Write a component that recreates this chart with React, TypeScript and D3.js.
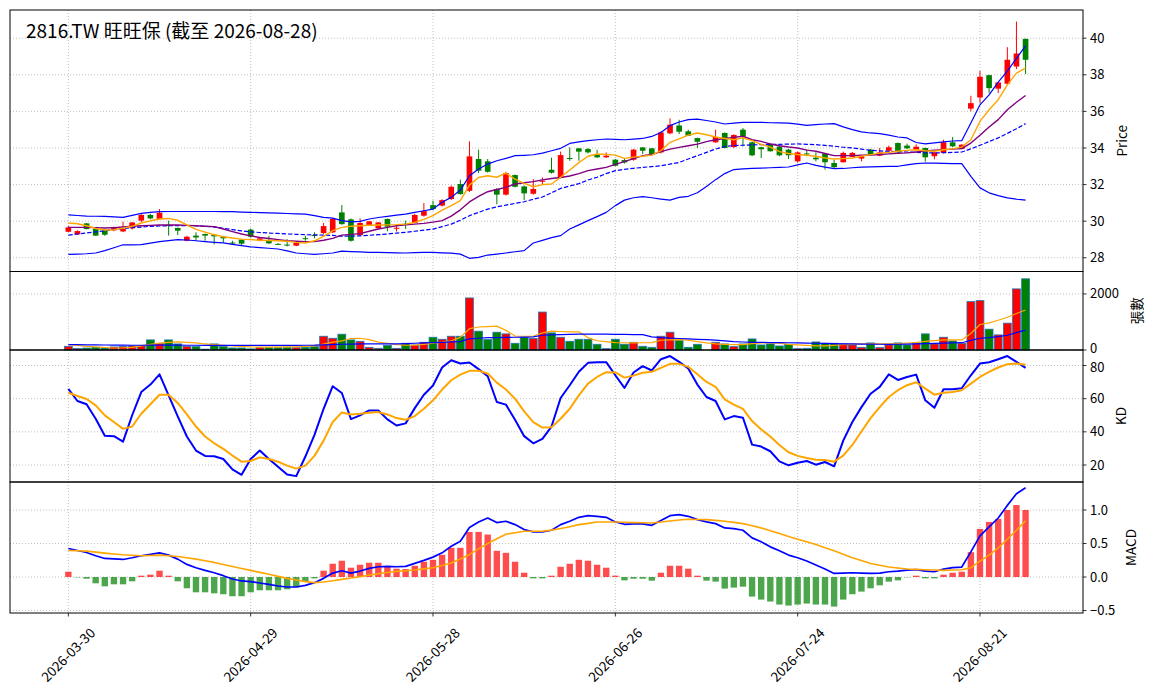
import * as d3 from 'd3';
import React, { useEffect, useRef } from 'react';

// trading days shown on the chart
const dates = [
    '2026-03-30', '2026-03-31', '2026-04-01', '2026-04-02', '2026-04-07', '2026-04-08', '2026-04-09', '2026-04-10',
    '2026-04-13', '2026-04-14', '2026-04-15', '2026-04-16', '2026-04-17', '2026-04-20', '2026-04-21', '2026-04-22',
    '2026-04-23', '2026-04-24', '2026-04-27', '2026-04-28', '2026-04-29', '2026-04-30', '2026-05-04', '2026-05-05',
    '2026-05-06', '2026-05-07', '2026-05-08', '2026-05-11', '2026-05-12', '2026-05-13', '2026-05-14', '2026-05-15',
    '2026-05-18', '2026-05-19', '2026-05-20', '2026-05-21', '2026-05-22', '2026-05-25', '2026-05-26', '2026-05-27',
    '2026-05-28', '2026-05-29', '2026-06-01', '2026-06-02', '2026-06-03', '2026-06-04', '2026-06-05', '2026-06-08',
    '2026-06-09', '2026-06-10', '2026-06-11', '2026-06-12', '2026-06-15', '2026-06-16', '2026-06-17', '2026-06-18',
    '2026-06-22', '2026-06-23', '2026-06-24', '2026-06-25', '2026-06-26', '2026-06-29', '2026-06-30', '2026-07-01',
    '2026-07-02', '2026-07-03', '2026-07-06', '2026-07-07', '2026-07-08', '2026-07-09', '2026-07-10', '2026-07-13',
    '2026-07-14', '2026-07-15', '2026-07-16', '2026-07-17', '2026-07-20', '2026-07-21', '2026-07-22', '2026-07-23',
    '2026-07-24', '2026-07-27', '2026-07-28', '2026-07-29', '2026-07-30', '2026-07-31', '2026-08-03', '2026-08-04',
    '2026-08-05', '2026-08-06', '2026-08-07', '2026-08-10', '2026-08-11', '2026-08-12', '2026-08-13', '2026-08-14',
    '2026-08-17', '2026-08-18', '2026-08-19', '2026-08-20', '2026-08-21', '2026-08-24', '2026-08-25', '2026-08-26',
    '2026-08-27', '2026-08-28',
];

// null = no trade that day
const openPx = [
    29.42, 29.28, 29.88, 29.57, 29.52, 29.5, 29.44, 29.61, 30.03, 30.34, 30.12, 29.8, 29.63, 28.93, 29.21, 29.3,
    29.26, 29.15, 28.83, 28.99, 29.54, 28.95, 28.93, 28.76, 28.72, 28.66, 29.07, 29.25, 29.35, 29.39, 30.48, 30.1,
    29.24, 29.79, 29.61, 30.12, 29.6, 29.86, 29.9, 30.3, 30.88, 30.85, 31.21, 32.03, 31.66, 33.4, 33.27, 31.76,
    31.45, 32.52, 31.9, 31.5, 32.19, 32.81, 32.39, 33.45, 33.98, 33.94, 33.67, 33.49, 33.36, 33.34, 33.36, 34.03,
    33.98, 33.76, 34.8, 35.23, 34.91, 34.54, null, 34.31, 34.82, 34.05, 35.0, 34.31, 34.04, 34.22, 34.07, 33.91,
    33.27, 33.7, 33.47, 33.69, 33.18, 33.22, 33.51, 33.42, 33.91, 33.58, 33.85, 34.27, 34.13, 33.91, 34.0, 33.55,
    33.73, 34.31, 33.95, 36.15, 36.76, 37.98, 37.24, 37.51, 38.45, 39.96,
];
const highPx = [
    29.75, 29.5, 29.9, 29.6, 29.55, 29.7, 29.97, 29.95, 30.4, 30.4, 30.66, 30.03, 29.65, 29.2, 29.39, 29.32,
    29.3, 29.2, 28.93, 29.0, 29.6, 29.1, 29.2, 28.8, 29.02, 28.85, 29.2, 29.39, 29.9, 30.15, 30.88, 30.15,
    30.15, 30.02, 29.95, 30.15, 29.79, 30.03, 30.4, 30.99, 31.12, 31.2, 31.95, 32.27, 34.36, 33.9, 33.4, 31.8,
    32.7, 32.55, 31.95, 32.3, 32.39, 33.47, 33.8, 34.03, 34.0, 34.0, 33.9, 33.76, 33.4, 33.4, 33.95, 34.05,
    34.0, 34.9, 35.62, 35.54, 35.0, 34.56, null, 35.0, 34.85, 34.75, 35.09, 34.35, 34.07, 34.25, 34.1, 33.95,
    33.8, 33.91, 33.76, 33.72, 33.36, 33.8, 33.78, 33.6, 33.95, 34.0, 34.13, 34.3, 34.24, 34.2, 34.02, 33.8,
    34.45, 34.6, 34.2, 36.85, 38.22, 38.0, 37.6, 39.51, 40.91, 39.98,
];
const lowPx = [
    29.4, 29.25, 29.55, 29.2, 29.2, 29.45, 29.4, 29.55, 29.95, 30.1, 30.1, 29.21, 29.24, 28.9, 28.93, 28.93,
    28.73, 28.84, 28.7, 28.7, 29.1, 28.9, 28.75, 28.7, 28.62, 28.63, 28.93, 29.06, 29.3, 29.35, 29.8, 28.88,
    29.2, 29.75, 29.6, 29.45, 29.44, 29.57, 29.88, 30.25, 30.6, 30.8, 31.15, 31.45, 31.6, 32.63, 32.65, 30.92,
    31.4, 31.85, 31.15, 31.45, 32.03, 32.6, 32.35, 33.3, 33.3, 33.7, 33.45, 33.45, 33.0, 33.15, 33.3, 33.67,
    33.65, 33.7, 34.75, 34.76, 34.65, 34.0, null, 34.28, 33.98, 34.0, 34.09, 33.55, 33.45, 33.8, 33.55, 33.4,
    33.2, 33.55, 33.27, 32.82, 32.9, 33.2, 33.5, 33.27, 33.6, 33.55, 33.8, 33.72, 33.95, 33.88, 33.25, 33.38,
    33.7, 34.05, 33.93, 36.0, 36.45, 37.0, 37.0, 37.45, 38.31, 38.04,
];
const closePx = [
    29.66, 29.46, 29.57, 29.21, 29.26, 29.65, 29.57, 29.93, 30.34, 30.15, 30.46, 29.78, 29.48, 29.15, 29.11, 29.21,
    29.17, 29.06, 28.8, 28.77, 29.15, 29.06, 28.79, 28.74, 28.7, 28.81, 29.05, 29.23, 29.73, 30.12, 29.84, 28.93,
    29.9, 29.99, 29.93, 29.7, 29.64, 29.84, 30.34, 30.55, 30.66, 31.15, 31.88, 31.48, 33.54, 32.76, 32.7, 31.45,
    32.63, 31.88, 31.52, 31.76, 32.21, 32.65, 33.61, 33.43, 33.8, 33.76, 33.49, 33.58, 33.03, 33.21, 33.91, 33.85,
    33.67, 34.85, 35.27, 34.89, 34.67, 34.34, null, 34.6, 34.0, 34.71, 34.64, 33.6, 33.93, 33.82, 33.6, 33.6,
    33.76, 33.67, 33.38, 33.22, 32.95, 33.73, 33.73, 33.55, 33.64, 33.76, 34.04, 33.76, 33.98, 34.07, 33.49, 33.76,
    34.31, 34.09, 34.18, 36.45, 37.89, 37.27, 37.58, 38.82, 39.16, 38.82,
];

// price overlays
const ma5 = [
    29.9, 29.86, 29.75, 29.6, 29.52, 29.53, 29.62, 29.72, 29.9, 30.02, 30.12, 30.15, 30.05, 29.8, 29.55, 29.4,
    29.26, 29.15, 29.08, 29.02, 28.99, 28.96, 28.94, 28.93, 28.9, 28.84, 28.81, 28.93, 29.17, 29.48, 29.66, 29.72,
    29.75, 29.78, 29.79, 29.8, 29.81, 29.84, 29.93, 30.1, 30.3, 30.6, 30.85, 31.12, 31.97, 32.39, 32.48, 32.4,
    32.62, 32.3, 32.07, 31.88, 32.0, 32.03, 32.4, 32.8, 33.2, 33.55, 33.67, 33.65, 33.61, 33.43, 33.5, 33.55,
    33.61, 33.85, 34.31, 34.5, 34.7, 34.82, 34.72, 34.6, 34.52, 34.45, 34.55, 34.4, 34.2, 34.05, 33.8, 33.7,
    33.64, 33.6, 33.55, 33.45, 33.4, 33.42, 33.45, 33.55, 33.64, 33.72, 33.76, 33.82, 33.87, 33.9, 33.85, 33.82,
    33.9, 33.95, 34.05, 34.45, 35.45, 36.09, 36.64, 37.45, 38.09, 38.36,
];
const ma10 = [
    29.66, 29.66, 29.66, 29.65, 29.63, 29.65, 29.68, 29.72, 29.75, 29.77, 29.79, 29.79, 29.79, 29.77, 29.75, 29.72,
    29.7, 29.57, 29.43, 29.3, 29.2, 29.11, 29.05, 28.99, 28.93, 28.9, 28.88, 28.88, 28.96, 29.06, 29.24, 29.28,
    29.32, 29.45, 29.57, 29.66, 29.75, 29.8, 29.84, 29.88, 29.95, 30.03, 30.28, 30.62, 31.05, 31.35, 31.61, 31.73,
    31.85, 32.03, 32.1, 32.16, 32.26, 32.33, 32.39, 32.47, 32.6, 32.76, 32.85, 32.94, 33.1, 33.25, 33.42, 33.58,
    33.64, 33.8, 33.94, 34.03, 34.12, 34.21, 34.35, 34.45, 34.52, 34.58, 34.64, 34.45, 34.36, 34.22, 34.12, 34.05,
    34.0, 33.88, 33.82, 33.7, 33.58, 33.58, 33.58, 33.6, 33.62, 33.64, 33.68, 33.71, 33.73, 33.78, 33.84, 33.88,
    33.91, 33.94, 33.97, 34.27, 34.7, 35.15, 35.55, 36.09, 36.5, 36.87,
];
const ma20 = [
    29.24, 29.3, 29.36, 29.41, 29.48, 29.55, 29.6, 29.64, 29.68, 29.72, 29.74, 29.75, 29.76, 29.76, 29.75, 29.72,
    29.68, 29.61, 29.54, 29.47, 29.42, 29.38, 29.35, 29.33, 29.3, 29.28, 29.26, 29.25, 29.24, 29.22, 29.18, 29.18,
    29.2, 29.23, 29.26, 29.3, 29.35, 29.39, 29.45, 29.51, 29.57, 29.7, 29.84, 30.05, 30.3, 30.48, 30.66, 30.78,
    30.88, 30.97, 31.06, 31.2, 31.32, 31.55, 31.79, 31.92, 32.05, 32.25, 32.4, 32.6, 32.76, 32.83, 32.89, 32.94,
    32.98, 33.03, 33.12, 33.21, 33.4, 33.58, 33.76, 33.94, 34.08, 34.13, 34.15, 34.17, 34.18, 34.19, 34.2, 34.21,
    34.22, 34.2, 34.18, 34.14, 34.1, 34.04, 34.0, 33.94, 33.87, 33.84, 33.82, 33.8, 33.78, 33.76, 33.73, 33.73,
    33.74, 33.76, 33.78, 33.95, 34.15, 34.35, 34.55, 34.8, 35.05, 35.33,
];
const bbUpper = [
    30.34, 30.31, 30.28, 30.27, 30.26, 30.23, 30.21, 30.32, 30.43, 30.48, 30.52, 30.53, 30.53, 30.53, 30.53, 30.53,
    30.53, 30.52, 30.52, 30.5, 30.48, 30.47, 30.45, 30.44, 30.42, 30.4, 30.39, 30.3, 30.21, 30.17, 30.03, 29.96,
    29.99, 30.12, 30.2, 30.26, 30.33, 30.39, 30.48, 30.57, 30.66, 31.03, 31.3, 31.7, 32.48, 32.85, 33.12, 33.3,
    33.43, 33.58, 33.6, 33.63, 33.72, 33.85, 33.98, 34.25, 34.33, 34.4, 34.45, 34.49, 34.47, 34.45, 34.48, 34.52,
    34.63, 34.85, 35.22, 35.42, 35.55, 35.58, 35.5, 35.42, 35.31, 35.36, 35.4, 35.4, 35.4, 35.38, 35.37, 35.36,
    35.3, 35.24, 35.28, 35.31, 35.33, 35.15, 35.0, 34.88, 34.82, 34.78, 34.7, 34.6, 34.55, 34.3, 34.22, 34.28,
    34.33, 34.38, 34.4, 35.36, 36.36, 36.9, 37.6, 38.2, 38.9, 39.58,
];
const bbLower = [
    28.19, 28.2, 28.22, 28.26, 28.39, 28.55, 28.71, 28.71, 28.72, 28.8, 28.88, 28.94, 28.99, 28.97, 28.93, 28.88,
    28.84, 28.81, 28.73, 28.66, 28.6, 28.56, 28.52, 28.48, 28.38, 28.26, 28.22, 28.19, 28.22, 28.26, 28.36, 28.34,
    28.32, 28.3, 28.29, 28.28, 28.27, 28.26, 28.28, 28.29, 28.3, 28.27, 28.25, 28.2, 27.97, 28.02, 28.15, 28.2,
    28.26, 28.33, 28.39, 28.81, 28.95, 29.1, 29.21, 29.57, 29.8, 30.03, 30.25, 30.48, 30.85, 31.15, 31.28, 31.34,
    31.28, 31.21, 31.15, 31.3, 31.36, 31.55, 31.9, 32.27, 32.6, 32.82, 32.86, 32.88, 32.9, 32.92, 32.94, 32.96,
    33.08, 33.18, 33.05, 32.95, 32.87, 32.88, 32.92, 32.95, 32.97, 32.98, 33.0, 33.0, 33.08, 33.15, 33.18, 33.17,
    33.16, 33.15, 33.15, 32.45, 31.82, 31.55, 31.4, 31.27, 31.2, 31.15,
];

// volume (張) and its averages
const volume = [
    132, 50, 70, 96, 70, 108, 132, 144, 144, 360, 228, 360, 216, 132, 120, 30,
    216, 120, 72, 72, 40, 84, 96, 96, 96, 84, 96, 120, 491, 419, 563, 360,
    311, 96, 60, 168, 60, 240, 180, 276, 455, 383, 491, 491, 1857, 671, 371, 635,
    575, 240, 443, 410, 1354, 611, 455, 311, 383, 383, 204, 48, 383, 204, 276, 132,
    96, 491, 635, 335, 96, 204, 0, 276, 216, 120, 216, 395, 180, 216, 144, 204,
    48, 60, 287, 240, 240, 216, 180, 96, 252, 84, 180, 252, 180, 252, 575, 216,
    455, 323, 240, 1725, 1761, 743, 539, 958, 2180, 2540,
];
const volMa5 = [
    192, 160, 130, 108, 90, 72, 80, 96, 150, 200, 245, 270, 288, 270, 252, 215,
    190, 165, 144, 125, 108, 105, 105, 105, 108, 115, 130, 144, 210, 280, 323, 410,
    420, 371, 280, 240, 195, 175, 170, 200, 240, 280, 330, 450, 760, 820, 835, 851,
    700, 500, 491, 491, 611, 671, 660, 650, 647, 443, 330, 300, 264, 258, 252, 258,
    264, 347, 360, 371, 350, 300, 252, 220, 200, 192, 192, 230, 252, 252, 240, 200,
    185, 165, 144, 150, 168, 190, 210, 220, 228, 220, 216, 230, 250, 264, 311, 335,
    359, 359, 360, 587, 910, 970, 1060, 1170, 1300, 1426,
];
const volMa20 = [
    192, 190, 185, 180, 178, 175, 172, 170, 170, 172, 172, 172, 172, 170, 170, 168,
    168, 168, 168, 168, 168, 165, 165, 165, 165, 168, 170, 172, 185, 195, 205, 212,
    216, 216, 216, 216, 220, 230, 240, 252, 265, 275, 288, 300, 400, 420, 440, 443,
    450, 455, 460, 470, 527, 540, 550, 560, 563, 565, 565, 563, 560, 555, 551, 548,
    467, 440, 425, 410, 395, 380, 371, 350, 323, 300, 285, 275, 270, 266, 264, 258,
    252, 246, 240, 234, 228, 222, 216, 212, 208, 205, 204, 206, 210, 215, 225, 235,
    245, 252, 260, 345, 420, 443, 480, 527, 620, 707,
];

// KD
const kLine = [
    65.9, 58.6, 56.6, 47.9, 37.6, 37.4, 34.1, 50.0, 64.0, 68.5, 74.7, 62.0, 49.3, 37.2, 28.7, 25.5,
    25.3, 23.6, 17.4, 14.1, 23.6, 28.7, 23.6, 19.0, 14.3, 13.3, 25.1, 38.2, 53.9, 67.5, 63.4, 47.7,
    49.9, 52.9, 52.9, 47.5, 43.8, 45.1, 54.3, 62.4, 67.9, 78.8, 83.2, 81.2, 81.8, 77.8, 73.5, 58.0,
    56.4, 47.3, 37.4, 33.1, 35.8, 43.2, 60.4, 68.1, 76.2, 81.6, 82.0, 82.0, 74.1, 66.5, 75.8, 79.6,
    77.0, 83.8, 85.7, 82.2, 78.2, 68.5, 61.0, 58.6, 47.5, 49.5, 48.5, 32.3, 31.1, 28.3, 22.2, 19.8,
    21.4, 22.4, 20.2, 21.8, 19.2, 34.7, 45.9, 54.9, 63.0, 67.1, 74.7, 71.3, 73.1, 74.5, 59.0, 54.5,
    65.7, 65.7, 66.3, 74.1, 81.2, 82.0, 83.8, 85.7, 82.2, 78.6,
];
const dLine = [
    63.6, 61.6, 59.8, 56.0, 49.9, 45.9, 41.8, 43.2, 50.9, 56.6, 62.4, 62.4, 57.4, 50.5, 43.2, 37.2,
    33.1, 29.7, 25.7, 22.0, 22.4, 24.6, 23.6, 22.0, 19.6, 17.8, 19.6, 25.5, 34.7, 45.9, 51.7, 50.5,
    50.9, 51.5, 51.9, 50.5, 48.3, 47.3, 49.5, 53.9, 59.0, 65.5, 71.1, 74.5, 76.8, 76.8, 75.2, 69.7,
    65.5, 60.0, 52.3, 45.9, 42.6, 42.8, 47.9, 53.9, 62.0, 69.1, 73.1, 76.0, 75.8, 72.7, 73.9, 75.6,
    76.2, 78.6, 81.0, 81.0, 79.2, 74.7, 70.1, 67.1, 59.6, 56.4, 53.9, 46.5, 41.4, 37.2, 32.1, 27.7,
    25.5, 24.2, 23.2, 23.0, 22.0, 25.7, 32.1, 40.2, 48.3, 54.9, 61.0, 65.1, 68.1, 69.9, 66.1, 62.4,
    63.6, 64.0, 65.1, 69.1, 73.1, 76.2, 78.8, 80.8, 81.2, 80.4,
];

// MACD
const dif = [
    0.426, 0.396, 0.366, 0.317, 0.277, 0.272, 0.262, 0.287, 0.317, 0.337, 0.361, 0.327, 0.267, 0.188, 0.139, 0.099,
    0.064, 0.02, -0.03, -0.059, -0.069, -0.089, -0.109, -0.134, -0.149, -0.149, -0.124, -0.084, -0.02, 0.059, 0.094, 0.059,
    0.089, 0.129, 0.153, 0.158, 0.153, 0.158, 0.203, 0.248, 0.297, 0.361, 0.46, 0.535, 0.738, 0.822, 0.881, 0.812,
    0.832, 0.782, 0.708, 0.673, 0.673, 0.698, 0.782, 0.832, 0.891, 0.916, 0.906, 0.891, 0.822, 0.787, 0.792, 0.792,
    0.772, 0.842, 0.916, 0.931, 0.906, 0.856, 0.822, 0.797, 0.733, 0.723, 0.698, 0.584, 0.525, 0.45, 0.391, 0.327,
    0.287, 0.238, 0.178, 0.119, 0.054, 0.059, 0.064, 0.059, 0.054, 0.059, 0.079, 0.089, 0.104, 0.109, 0.089, 0.079,
    0.119, 0.139, 0.149, 0.376, 0.614, 0.748, 0.881, 1.069, 1.243, 1.332,
];
const dea = [
    0.396, 0.391, 0.386, 0.371, 0.356, 0.344, 0.332, 0.325, 0.317, 0.322, 0.327, 0.317, 0.307, 0.287, 0.267, 0.243,
    0.218, 0.188, 0.158, 0.128, 0.099, 0.069, 0.04, 0.01, -0.02, -0.045, -0.069, -0.084, -0.074, -0.055, -0.035, -0.015,
    0.005, 0.028, 0.05, 0.067, 0.084, 0.094, 0.104, 0.121, 0.139, 0.173, 0.208, 0.27, 0.337, 0.42, 0.5, 0.57,
    0.639, 0.661, 0.683, 0.683, 0.683, 0.7, 0.723, 0.75, 0.782, 0.8, 0.822, 0.822, 0.822, 0.817, 0.812, 0.81,
    0.807, 0.82, 0.837, 0.85, 0.861, 0.858, 0.856, 0.845, 0.832, 0.815, 0.797, 0.765, 0.733, 0.69, 0.649, 0.605,
    0.564, 0.525, 0.485, 0.438, 0.391, 0.34, 0.287, 0.245, 0.203, 0.176, 0.149, 0.134, 0.119, 0.114, 0.109, 0.104,
    0.099, 0.104, 0.109, 0.139, 0.238, 0.327, 0.436, 0.564, 0.698, 0.837,
];
const macdHist = [
    0.079, -0.005, -0.025, -0.094, -0.139, -0.109, -0.109, -0.064, 0.02, 0.035, 0.094, 0.02, -0.064, -0.168, -0.228, -0.228,
    -0.243, -0.257, -0.287, -0.287, -0.228, -0.198, -0.198, -0.198, -0.183, -0.153, -0.069, -0.02, 0.094, 0.198, 0.243, 0.139,
    0.183, 0.213, 0.213, 0.149, 0.124, 0.119, 0.168, 0.228, 0.257, 0.332, 0.436, 0.436, 0.673, 0.673, 0.634, 0.391,
    0.361, 0.228, 0.064, -0.02, -0.02, 0.02, 0.153, 0.198, 0.257, 0.243, 0.183, 0.139, 0.02, -0.05, -0.025, -0.025,
    -0.054, 0.064, 0.168, 0.168, 0.124, 0.02, -0.054, -0.069, -0.173, -0.158, -0.144, -0.292, -0.337, -0.366, -0.411, -0.426,
    -0.411, -0.396, -0.411, -0.411, -0.441, -0.337, -0.257, -0.218, -0.168, -0.124, -0.069, -0.05, -0.005, 0.02, -0.02, -0.02,
    0.035, 0.064, 0.079, 0.371, 0.718, 0.822, 0.866, 1.0, 1.074, 1.0,
];

const priceTicks = [28, 30, 32, 34, 36, 38, 40];
const volTicks = [0, 2000];
const kdTicks = [20, 40, 60, 80];
const macdTicks = [-0.5, 0, 0.5, 1.0];
const dateTickEvery = 20;

const title = '2816.TW 旺旺保 (截至 2026-08-28)';
const FONT = '"Noto Sans CJK TC", "Noto Sans", sans-serif';

const W = 1156;
const H = 698;
const left = 10;
const right = 1083;

const App: React.FC = () => {
    const svgRef = useRef<SVGSVGElement | null>(null);

    useEffect(() => {
        if (!svgRef.current) return;
        const svg = d3.select(svgRef.current);
        svg.selectAll('*').remove();

        const x = d3.scaleLinear().domain([-6.4, 111.3]).range([left, right]);
        const step = x(1) - x(0);
        const idx = dates.map((_, i) => i);
        const tickIdx = idx.filter((i) => i % dateTickEvery === 0);

        const panels = [
            { key: 'price', top: 10, bottom: 271.5, domain: [27.25, 41.54], ticks: priceTicks, fmt: (v: number) => `${v}`, label: 'Price', labelX: 1122 },
            { key: 'vol', top: 271.5, bottom: 350, domain: [0, 2800], ticks: volTicks, fmt: (v: number) => `${v}`, label: '張數', labelX: 1137 },
            { key: 'kd', top: 350, bottom: 482, domain: [9.75, 89.35], ticks: kdTicks, fmt: (v: number) => `${v}`, label: 'KD', labelX: 1121 },
            { key: 'macd', top: 482, bottom: 613, domain: [-0.537, 1.418], ticks: macdTicks, fmt: (v: number) => v.toFixed(1).replace('-', '\u2212'), label: 'MACD', labelX: 1131 },
        ];

        const scales: Record<string, d3.ScaleLinear<number, number>> = {};

        panels.forEach((p) => {
            const y = d3.scaleLinear().domain(p.domain).range([p.bottom, p.top]);
            scales[p.key] = y;
            const g = svg.append('g');

            // grid
            g.selectAll('line.hg')
                .data(p.ticks)
                .enter()
                .append('line')
                .attr('x1', left)
                .attr('x2', right)
                .attr('y1', (d) => y(d))
                .attr('y2', (d) => y(d))
                .attr('stroke', '#b0b0b0')
                .attr('stroke-width', 0.8)
                .attr('stroke-dasharray', '1,2');
            g.selectAll('line.vg')
                .data(tickIdx)
                .enter()
                .append('line')
                .attr('x1', (d) => x(d))
                .attr('x2', (d) => x(d))
                .attr('y1', p.top)
                .attr('y2', p.bottom)
                .attr('stroke', '#b0b0b0')
                .attr('stroke-width', 0.8)
                .attr('stroke-dasharray', '1,2');

            // right axis
            p.ticks.forEach((t) => {
                g.append('line')
                    .attr('x1', right)
                    .attr('x2', right + 3.5)
                    .attr('y1', y(t))
                    .attr('y2', y(t))
                    .attr('stroke', 'black')
                    .attr('stroke-width', 0.8);
                // keep the labels at panel joins from touching each other
                const nudge = Math.abs(y(t) - p.bottom) < 1 ? -2 : Math.abs(y(t) - p.top) < 18 ? 1.5 : 0;
                g.append('text')
                    .attr('x', right + 7)
                    .attr('y', y(t) + nudge)
                    .attr('dy', '0.35em')
                    .attr('font-size', 13)
                    .attr('font-family', FONT)
                    .text(p.fmt(t));
            });
            g.append('text')
                .attr('transform', `translate(${p.labelX},${(p.top + p.bottom) / 2}) rotate(-90)`)
                .attr('text-anchor', 'middle')
                .attr('dy', '0.35em')
                .attr('font-size', 13.5)
                .attr('font-family', FONT)
                .text(p.label);
        });

        const line = (y: d3.ScaleLinear<number, number>) =>
            d3
                .line<number | null>()
                .defined((d) => d != null)
                .x((_, i) => x(i))
                .y((d) => y(d as number));

        const addLine = (data: (number | null)[], y: d3.ScaleLinear<number, number>, color: string, width: number, dash?: string) => {
            const path = svg
                .append('path')
                .datum(data)
                .attr('d', line(y))
                .attr('fill', 'none')
                .attr('stroke', color)
                .attr('stroke-width', width)
                .attr('stroke-linejoin', 'round');
            if (dash) path.attr('stroke-dasharray', dash);
        };

        // candles
        const yp = scales.price;
        const bodyW = step * 0.62;
        idx.forEach((i) => {
            const o = openPx[i];
            const c = closePx[i];
            const h = highPx[i];
            const l = lowPx[i];
            if (o == null || c == null || h == null || l == null) return;
            const col = c >= o ? '#ff0000' : '#008000';
            svg.append('line')
                .attr('x1', x(i))
                .attr('x2', x(i))
                .attr('y1', yp(h))
                .attr('y2', yp(l))
                .attr('stroke', col)
                .attr('stroke-width', 1);
            const top = yp(Math.max(o, c));
            const hgt = Math.max(1, yp(Math.min(o, c)) - top);
            svg.append('rect')
                .attr('x', x(i) - bodyW / 2)
                .attr('y', top)
                .attr('width', bodyW)
                .attr('height', hgt)
                .attr('fill', col);
        });

        addLine(bbUpper, yp, '#0000ff', 1.2);
        addLine(bbLower, yp, '#0000ff', 1.2);
        addLine(ma20, yp, '#0000ff', 1.2, '4.4,1.9');
        addLine(ma10, yp, '#800080', 1.4);
        addLine(ma5, yp, '#ffa500', 1.4);

        // volume
        const yv = scales.vol;
        const volW = step * 0.86;
        svg.append('g')
            .selectAll('rect')
            .data(volume)
            .enter()
            .append('rect')
            .attr('x', (_, i) => x(i) - volW / 2)
            .attr('y', (d) => yv(d))
            .attr('width', volW)
            .attr('height', (d) => yv(0) - yv(d))
            .attr('fill', (_, i) => ((closePx[i] ?? 0) >= (openPx[i] ?? 0) ? '#ff0000' : '#008000'))
            .attr('stroke', '#1f77b4')
            .attr('stroke-width', (d) => (d > 0 ? 0.8 : 0));
        addLine(volMa5, yv, '#ffa500', 1.2);
        addLine(volMa20, yv, '#0000ff', 1.2);

        // KD
        const yk = scales.kd;
        addLine(kLine, yk, '#0000ff', 2);
        addLine(dLine, yk, '#ffa500', 2);

        // MACD
        const ym = scales.macd;
        const histW = step * 0.7;
        svg.append('g')
            .selectAll('rect')
            .data(macdHist)
            .enter()
            .append('rect')
            .attr('x', (_, i) => x(i) - histW / 2)
            .attr('y', (d) => ym(Math.max(0, d)))
            .attr('width', histW)
            .attr('height', (d) => Math.abs(ym(d) - ym(0)))
            .attr('fill', (d) => (d >= 0 ? 'red' : 'green'))
            .attr('fill-opacity', 0.7);
        addLine(dif, ym, '#0000ff', 1.7);
        addLine(dea, ym, '#ffa500', 1.6);

        // frames
        panels.forEach((p) => {
            svg.append('rect')
                .attr('x', left)
                .attr('y', p.top)
                .attr('width', right - left)
                .attr('height', p.bottom - p.top)
                .attr('fill', 'none')
                .attr('stroke', 'black')
                .attr('stroke-width', 1);
        });

        // date axis
        const bottom = 613;
        tickIdx.forEach((i) => {
            svg.append('line')
                .attr('x1', x(i))
                .attr('x2', x(i))
                .attr('y1', bottom)
                .attr('y2', bottom + 3.5)
                .attr('stroke', 'black')
                .attr('stroke-width', 0.8);
            svg.append('text')
                .attr('transform', `translate(${x(i)},${bottom + 42}) rotate(-45)`)
                .attr('text-anchor', 'middle')
                .attr('dy', '0.35em')
                .attr('font-size', 13.5)
                .attr('font-family', FONT)
                .text(dates[i]);
        });

        svg.append('text')
            .attr('x', 26)
            .attr('y', 38)
            .attr('font-size', 19)
            .attr('font-family', FONT)
            .text(title);
    }, []);

    return (
        <svg
            ref={svgRef}
            width={W}
            height={H}
            style={{ position: 'absolute', left: 0, top: 0, background: 'white' }}
        />
    );
};

export default App;
